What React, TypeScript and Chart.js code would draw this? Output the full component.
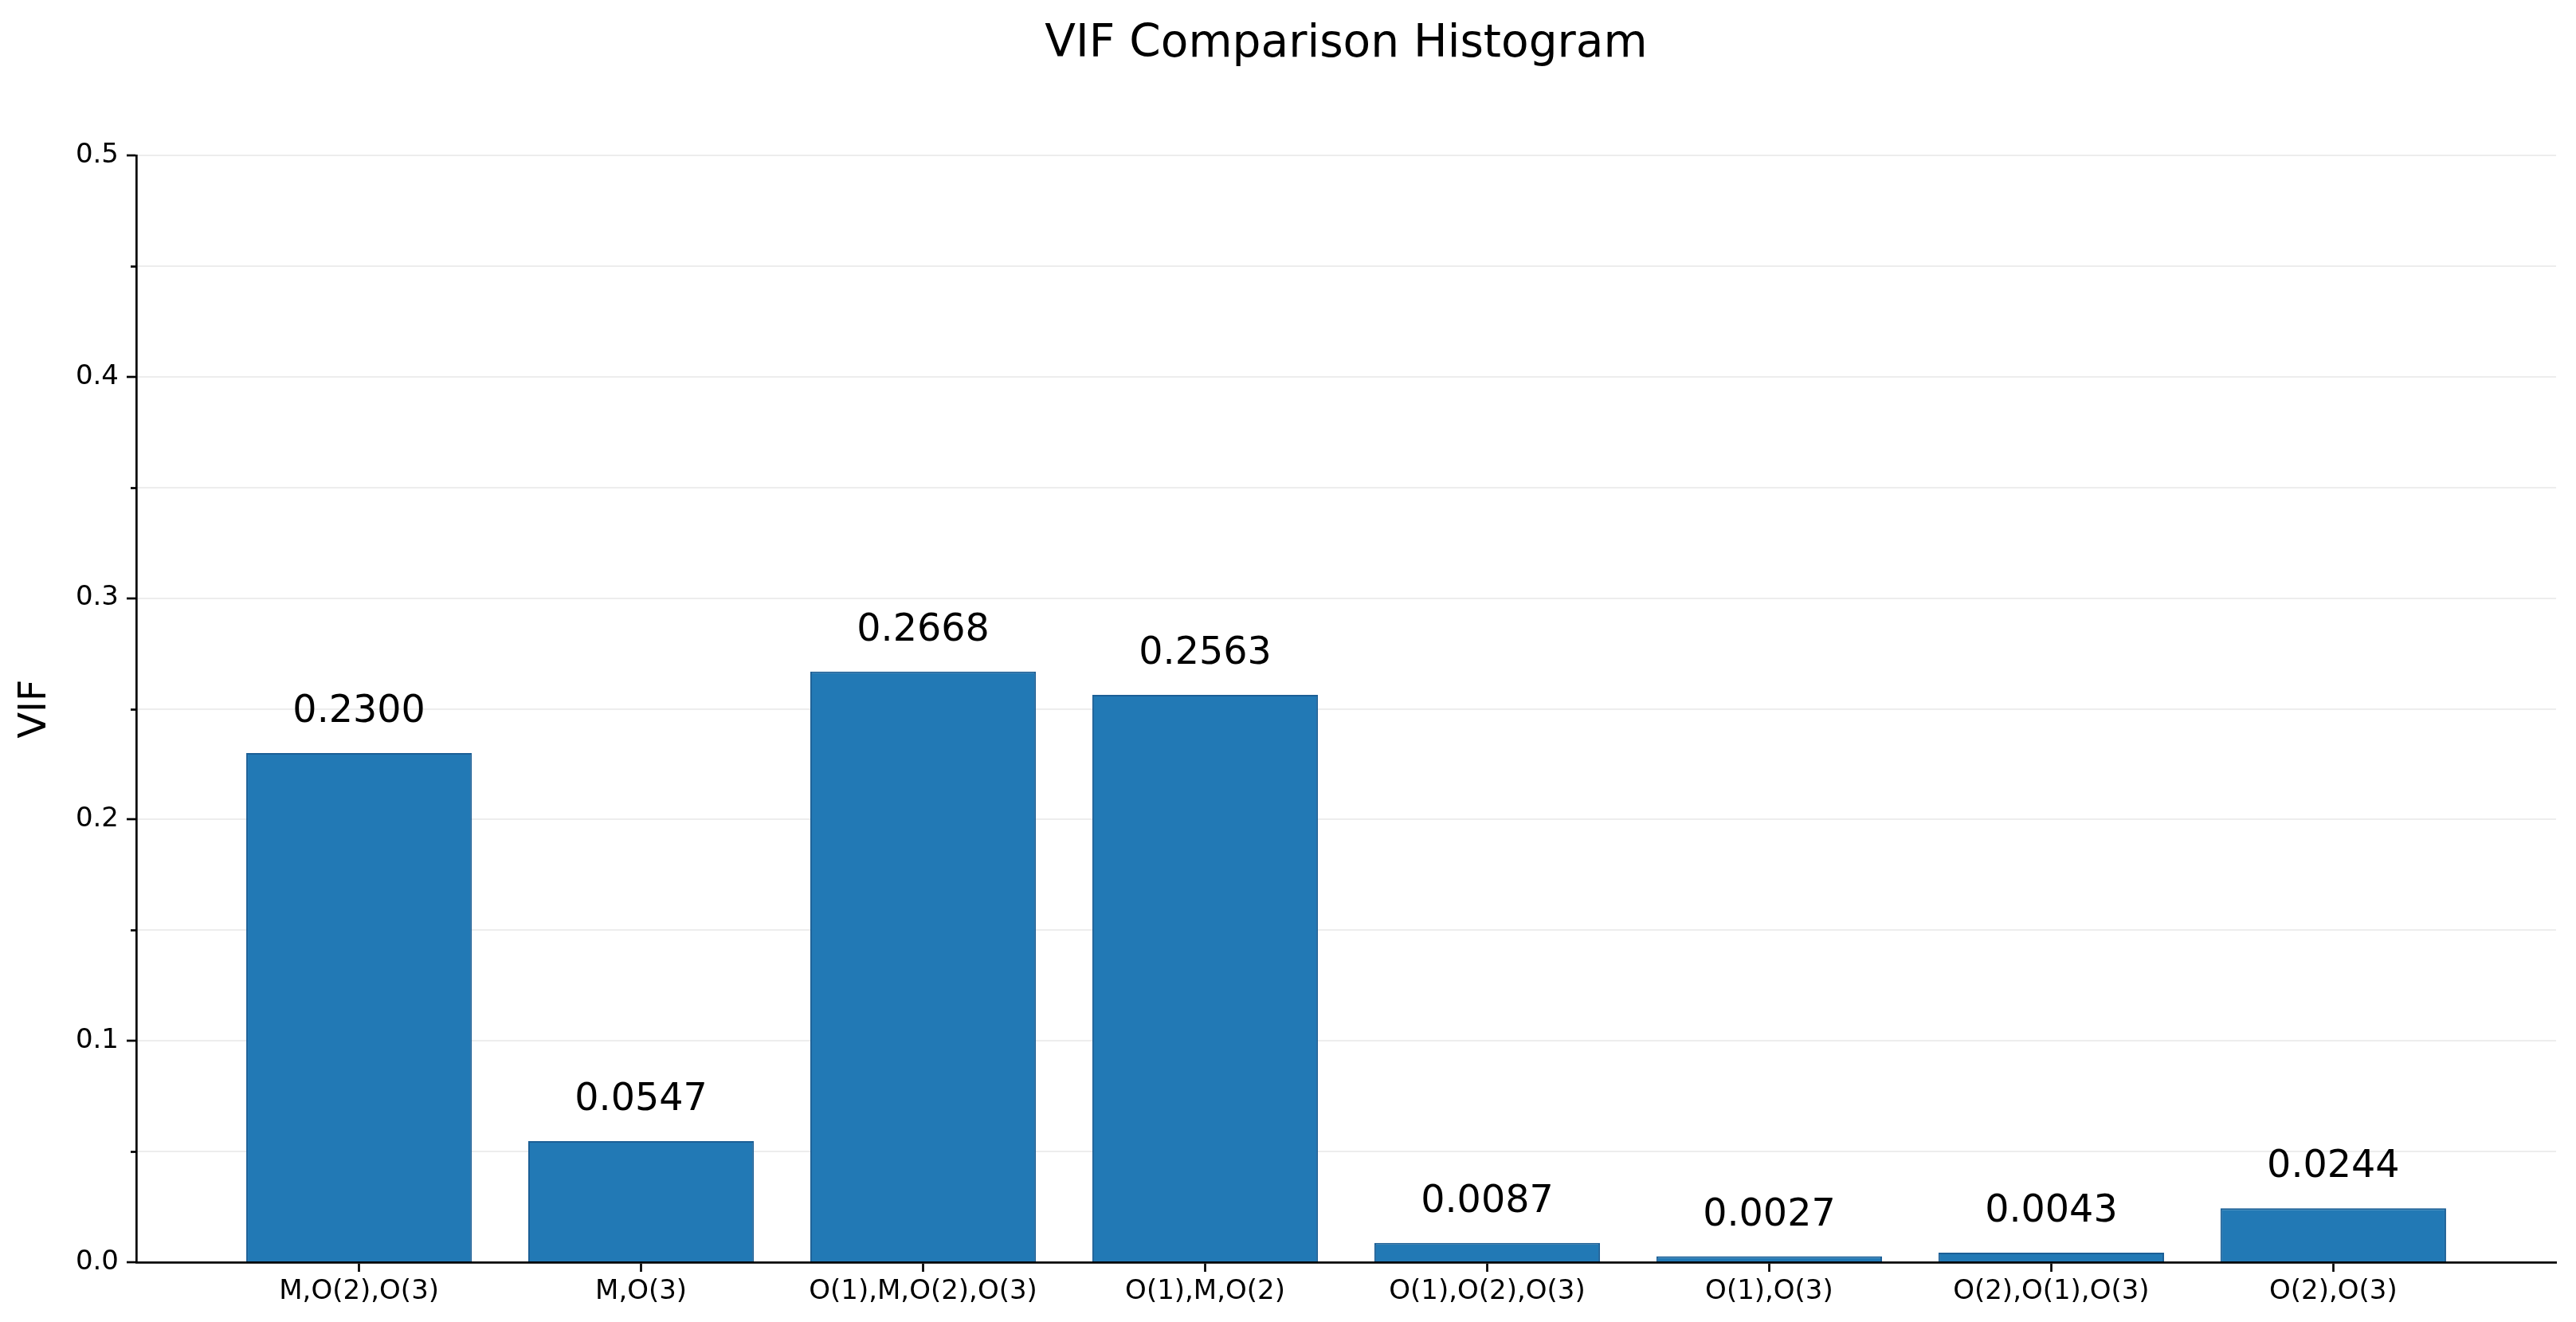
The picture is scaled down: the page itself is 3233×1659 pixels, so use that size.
import React, { useEffect, useRef } from "react";
import { Chart, registerables } from "chart.js";

Chart.register(...registerables);

const categories = [
  "M,O(2),O(3)",
  "M,O(3)",
  "O(1),M,O(2),O(3)",
  "O(1),M,O(2)",
  "O(1),O(2),O(3)",
  "O(1),O(3)",
  "O(2),O(1),O(3)",
  "O(2),O(3)",
];
const vifValues = [0.23, 0.0547, 0.2668, 0.2563, 0.0087, 0.0027, 0.0043, 0.0244];
const yMax = 0.5;
const yStep = 0.05;
const titleText = "VIF Comparison Histogram";

const FONT = "'DejaVu Sans', sans-serif";

const isMajor = (v: number) => Math.abs(v * 10 - Math.round(v * 10)) < 1e-6;

// title centred over the axes, value text above each bar, short minor ticks on y
const extrasPlugin = {
  id: "extras",
  afterDatasetsDraw(chart: any) {
    const { ctx, chartArea } = chart;
    const yScale = chart.scales.y;
    const meta = chart.getDatasetMeta(0);
    ctx.save();
    ctx.fillStyle = "#000";
    ctx.textAlign = "center";
    ctx.textBaseline = "alphabetic";

    ctx.font = `56.6px ${FONT}`;
    ctx.fillText(titleText, (chartArea.left + chartArea.right) / 2, 71);

    ctx.font = `47.6px ${FONT}`;
    meta.data.forEach((bar: any, i: number) => {
      const y = yScale.getPixelForValue(vifValues[i] + 0.01) - 11;
      ctx.fillText(vifValues[i].toFixed(4), bar.x, y);
    });

    ctx.strokeStyle = "#000";
    ctx.lineWidth = 2.7;
    for (let v = yStep; v < yMax; v += yStep) {
      if (isMajor(v)) continue;
      const py = Math.round(yScale.getPixelForValue(v)) + 0.5;
      ctx.beginPath();
      ctx.moveTo(chartArea.left - 7, py);
      ctx.lineTo(chartArea.left, py);
      ctx.stroke();
    }
    ctx.restore();
  },
};

const App: React.FC = () => {
  const canvasRef = useRef<HTMLCanvasElement | null>(null);

  useEffect(() => {
    document.body.style.margin = "0";
    if (!canvasRef.current) return;
    const ctx = canvasRef.current.getContext("2d");
    if (!ctx) return;

    const chart = new Chart(ctx, {
      type: "bar",
      data: {
        datasets: [
          {
            label: "VIF",
            data: vifValues.map((v, i) => ({ x: i, y: v })),
            backgroundColor: "#2279b5",
            borderColor: "#1b5f96",
            borderWidth: 2,
            barPercentage: 0.8,
            categoryPercentage: 1.0,
          },
        ],
      },
      options: {
        animation: false,
        responsive: true,
        maintainAspectRatio: false,
        devicePixelRatio: 1,
        layout: { padding: { left: 0, right: 25, top: 195, bottom: 0 } },
        plugins: {
          legend: { display: false },
          tooltip: { enabled: false },
          title: { display: false },
        },
        scales: {
          x: {
            type: "linear",
            min: -0.79,
            max: 7.79,
            offset: false,
            afterBuildTicks: (scale: any) => {
              scale.ticks = categories.map((_, i) => ({ value: i }));
            },
            afterFit: (scale: any) => {
              scale.height = 75;
            },
            ticks: {
              autoSkip: false,
              maxRotation: 0,
              minRotation: 0,
              padding: 5,
              color: "#000",
              font: { family: FONT, size: 34 },
              callback: (value: any) => categories[Math.round(Number(value))] ?? "",
            },
            grid: {
              offset: false,
              drawOnChartArea: false,
              drawTicks: true,
              tickLength: 12,
              tickWidth: 2.7,
              tickColor: "#000",
            },
            border: { display: true, color: "#000", width: 2.7 },
          },
          y: {
            min: 0,
            max: yMax,
            afterFit: (scale: any) => {
              scale.width = 171;
            },
            ticks: {
              stepSize: yStep,
              autoSkip: false,
              padding: 10,
              color: "#000",
              font: { family: FONT, size: 34 },
              callback: (value: any) => (isMajor(Number(value)) ? Number(value).toFixed(1) : ""),
            },
            grid: {
              color: "rgba(0,0,0,0.07)",
              lineWidth: 2,
              tickLength: 12,
              tickWidth: 2.7,
              tickColor: (c: any) => (isMajor(c.tick.value) ? "#000" : "rgba(0,0,0,0)"),
            },
            border: { display: true, color: "#000", width: 2.7 },
            title: {
              display: true,
              text: "VIF",
              color: "#000",
              font: { family: FONT, size: 47.6, weight: "normal" },
              padding: { top: 16, bottom: 0 },
            },
          },
        },
      },
      plugins: [extrasPlugin],
    });

    return () => {
      chart.destroy();
    };
  }, []);

  return (
    <div style={{ width: "3233px", height: "1659px", position: "relative", background: "#fff" }}>
      <canvas ref={canvasRef}></canvas>
    </div>
  );
};

export default App;
